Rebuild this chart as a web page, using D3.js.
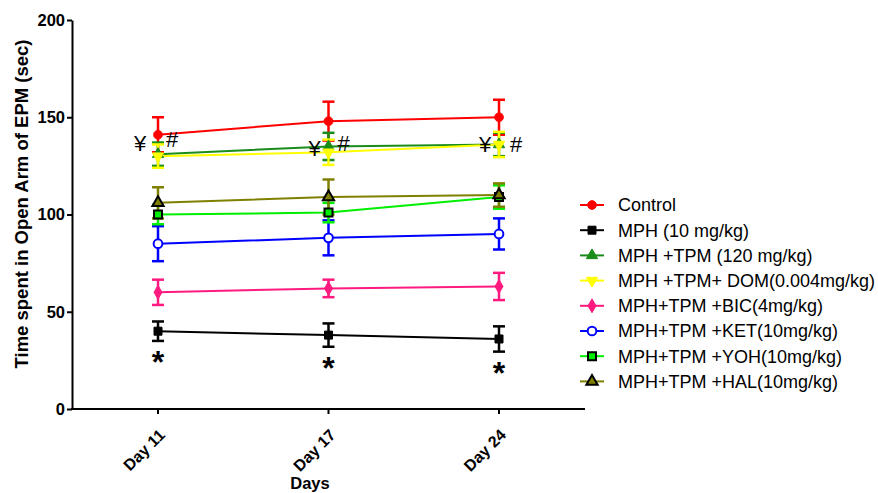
<!DOCTYPE html>
<html lang="en">
<head>
<meta charset="UTF-8">
<title>EPM open arm time</title>
<script src="https://d3js.org/d3.v7.min.js"></script>
<style>
  body { margin: 0; background: #fff; }
  svg text { font-family: Arial, "Liberation Sans", sans-serif; }
</style>
</head>
<body>
<div id="chart"></div>
<script>
// data
var days = ["Day 11", "Day 17", "Day 24"];
var groups = ["Control", "MPH (10 mg/kg)", "MPH +TPM (120 mg/kg)", "MPH +TPM+ DOM(0.004mg/kg)",
              "MPH+TPM +BIC(4mg/kg)", "MPH+TPM +KET(10mg/kg)", "MPH+TPM +YOH(10mg/kg)", "MPH+TPM +HAL(10mg/kg)"];
var control = [141, 148, 150];
var controlErr = [9, 10, 9];
var mph = [40, 38, 36];
var mphErr = [5, 6, 6.5];
var tpm = [131, 135, 136];
var tpmErr = [6, 7, 6];
var dom = [130, 132, 136];
var domErr = [6, 6.5, 6.5];
var bic = [60, 62, 63];
var bicErr = [6.5, 4.5, 7];
var ket = [85, 88, 90];
var ketErr = [9, 9, 8];
var yoh = [100, 101, 109];
var yohErr = [5, 5, 6];
var hal = [106, 109, 110];
var halErr = [8, 9, 6];
var yTicks = [0, 50, 100, 150, 200];

var series = [
  {name: groups[0], v: control, e: controlErr, color: "#ff0000", shape: "circle", fill: true},
  {name: groups[1], v: mph, e: mphErr, color: "#000000", shape: "square", fill: true},
  {name: groups[2], v: tpm, e: tpmErr, color: "#1a8c1a", shape: "triangle", fill: true},
  {name: groups[3], v: dom, e: domErr, color: "#ffff00", shape: "down", fill: true},
  {name: groups[4], v: bic, e: bicErr, color: "#ff1a80", shape: "diamond", fill: true},
  {name: groups[5], v: ket, e: ketErr, color: "#0000ff", shape: "circle", fill: false},
  {name: groups[6], v: yoh, e: yohErr, color: "#00ee00", shape: "square", fill: false, edge: "#000"},
  {name: groups[7], v: hal, e: halErr, color: "#808000", shape: "triangle", fill: false, edge: "#000"}
];

var width = 878, height = 493;
var svg = d3.select("#chart").append("svg")
  .attr("width", width).attr("height", height);

var x = d3.scalePoint().domain(days).range([158, 499]);
var y = d3.scaleLinear().domain([0, 200]).range([409, 20]);

// axes
var yAxis = svg.append("g").attr("transform", "translate(72,0)")
  .call(d3.axisLeft(y).tickValues(yTicks).tickSize(5).tickSizeOuter(0));
yAxis.select(".domain").attr("stroke-width", 2);
yAxis.selectAll(".tick line").attr("stroke-width", 2);
yAxis.selectAll("text").attr("font-size", 16.5).attr("font-weight", "bold").attr("dx", 1);

var xAxis = svg.append("g").attr("transform", "translate(0,409)");
xAxis.append("line").attr("x1", 71).attr("x2", 585).attr("stroke", "#000").attr("stroke-width", 2);
xAxis.selectAll(".tk").data(days).enter().append("line")
  .attr("x1", d => x(d)).attr("x2", d => x(d)).attr("y1", 0).attr("y2", 5)
  .attr("stroke", "#000").attr("stroke-width", 2);
xAxis.selectAll(".lbl").data(days).enter().append("text")
  .attr("transform", d => "translate(" + (x(d) + 4) + ",23) rotate(-45)")
  .attr("text-anchor", "end").attr("dy", "0.35em")
  .attr("font-size", 16).attr("font-weight", "bold").text(d => d);

svg.append("text").attr("x", 310).attr("y", 489).attr("text-anchor", "middle")
  .attr("font-size", 16.5).attr("font-weight", "bold").text("Days");
svg.append("text").attr("transform", "translate(28,204) rotate(-90)")
  .attr("text-anchor", "middle").attr("font-size", 18.5).attr("font-weight", "bold")
  .text("Time spent in Open Arm of EPM (sec)");

// marker drawing
function symbolFor(s) {
  var t = {circle: d3.symbolCircle, square: d3.symbolSquare, triangle: d3.symbolTriangle,
           down: d3.symbolTriangle, diamond: d3.symbolDiamond}[s.shape];
  var size = {circle: 60, square: 64, triangle: 55, down: 55, diamond: 55}[s.shape];
  return d3.symbol().type(t).size(size)();
}
function drawMarker(g, s, cx, cy) {
  var rot = s.shape === "down" ? " rotate(180)" : "";
  var p = g.append("path").attr("d", symbolFor(s))
    .attr("transform", "translate(" + cx + "," + cy + ")" + rot);
  if (s.fill) {
    p.attr("fill", s.color).attr("stroke", s.color);
  } else {
    p.attr("fill", s.edge ? s.color : "#fff").attr("stroke", s.edge || s.color).attr("stroke-width", 2);
  }
}

var line = d3.line().x((d, i) => x(days[i])).y(d => y(d));
var plot = svg.append("g");
series.forEach(function(s) {
  var g = plot.append("g");
  g.append("path").datum(s.v).attr("d", line)
    .attr("fill", "none").attr("stroke", s.color).attr("stroke-width", 2);
  s.v.forEach(function(v, i) {
    var cx = x(days[i]);
    g.append("line").attr("x1", cx).attr("x2", cx)
      .attr("y1", y(v - s.e[i])).attr("y2", y(v + s.e[i]))
      .attr("stroke", s.color).attr("stroke-width", 2.5);
    [v - s.e[i], v + s.e[i]].forEach(function(c) {
      g.append("line").attr("x1", cx - 6).attr("x2", cx + 6)
        .attr("y1", y(c)).attr("y2", y(c))
        .attr("stroke", s.color).attr("stroke-width", 2.5);
    });
  });
});
series.forEach(function(s) {
  s.v.forEach(function(v, i) { drawMarker(plot, s, x(days[i]), y(v)); });
});

// significance marks
var yen = [[-18, 137], [-14, 134], [-14, 136]];
var hash = [[14, 139], [15, 137], [17, 136]];
days.forEach(function(d, i) {
  svg.append("text").attr("x", x(d) + yen[i][0]).attr("y", y(yen[i][1]) + 8)
    .attr("text-anchor", "middle").attr("font-size", 22).text("¥");
  svg.append("text").attr("x", x(d) + hash[i][0]).attr("y", y(hash[i][1]) + 8)
    .attr("text-anchor", "middle").attr("font-size", 22).text("#");
  svg.append("text").attr("x", x(d)).attr("y", y(mph[i] - mphErr[i]) + 32)
    .attr("text-anchor", "middle").attr("font-size", 32).attr("font-weight", "bold").text("*");
});

// legend
var leg = svg.append("g").attr("transform", "translate(580,205)");
series.forEach(function(s, i) {
  var row = leg.append("g").attr("transform", "translate(0," + (i * 25.2) + ")");
  row.append("line").attr("x1", 0).attr("x2", 24).attr("stroke", s.color).attr("stroke-width", 2);
  drawMarker(row, s, 12, 0);
  row.append("text").attr("x", 38).attr("dy", "0.35em").attr("font-size", 18).text(s.name);
});
</script>
</body>
</html>
